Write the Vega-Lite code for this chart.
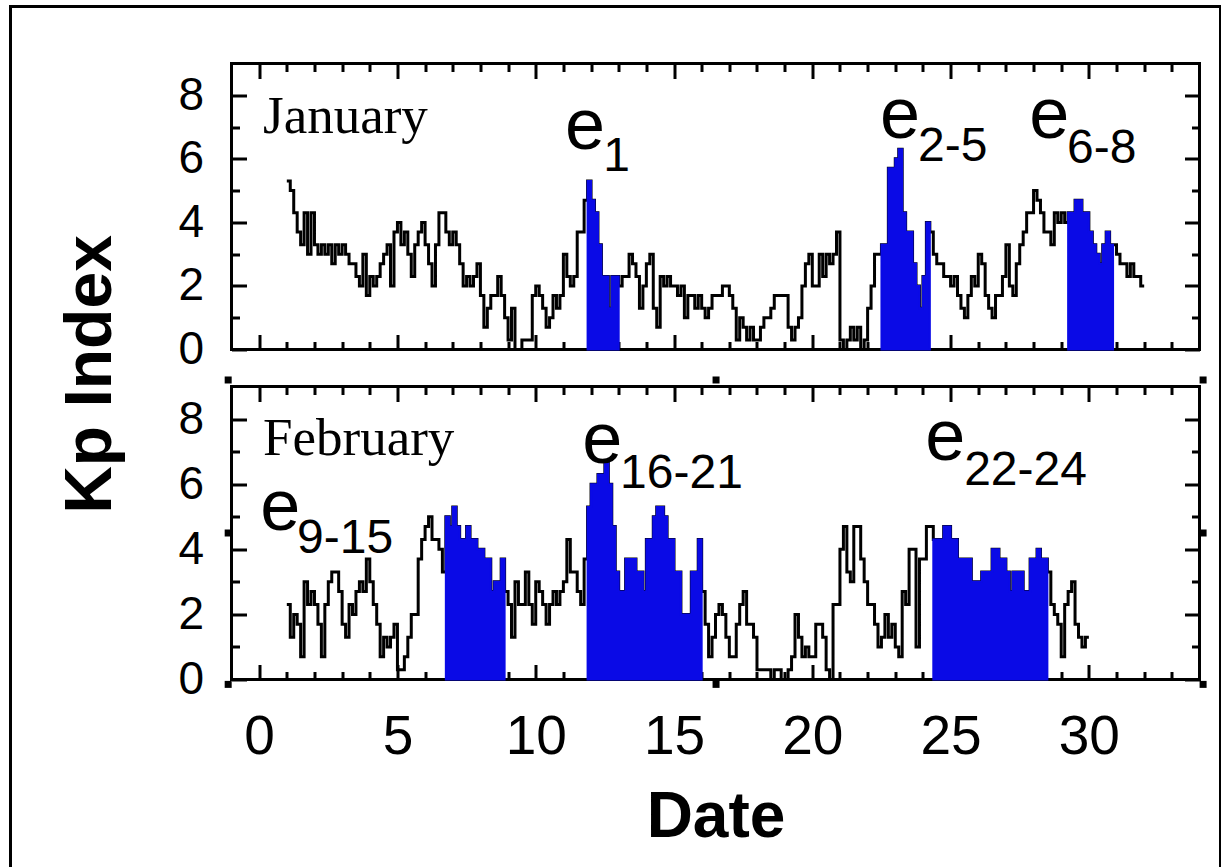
{
  "$schema": "https://vega.github.io/schema/vega-lite/v6.json",
  "background": "white",
  "padding": {"left": 10.5, "top": 6.5, "right": 0, "bottom": 0},
  "autosize": {"type": "pad"},
  "config": {
    "width": 1210,
    "height": 862,
    "group": {"stroke": "black", "strokeWidth": 3},
    "view": {"stroke": "black", "strokeWidth": 3},
    "axis": {"grid": false, "domain": false, "tickColor": "black", "tickWidth": 3, "labelColor": "black", "labelFont": "Liberation Sans", "labelOverlap": false, "labelFlush": false, "titleColor": "black"},
    "text": {"font": "Liberation Sans", "color": "black"}
  },
  "datasets": {
    "january": [
      {"day":1,"kp":5.3},{"day":1.125,"kp":5},{"day":1.25,"kp":4.3},{"day":1.375,"kp":3.7},{"day":1.5,"kp":3.3},{"day":1.625,"kp":4.3},{"day":1.75,"kp":3},{"day":1.875,"kp":4.3},
      {"day":2,"kp":3.3},{"day":2.125,"kp":3},{"day":2.25,"kp":3.3},{"day":2.375,"kp":3},{"day":2.5,"kp":3.3},{"day":2.625,"kp":2.7},{"day":2.75,"kp":3.3},{"day":2.875,"kp":3},
      {"day":3,"kp":3.3},{"day":3.125,"kp":3},{"day":3.25,"kp":2.7},{"day":3.375,"kp":2.7},{"day":3.5,"kp":2.3},{"day":3.625,"kp":2},{"day":3.75,"kp":3},{"day":3.875,"kp":1.7},
      {"day":4,"kp":2.3},{"day":4.125,"kp":2},{"day":4.25,"kp":2.3},{"day":4.375,"kp":2.7},{"day":4.5,"kp":3},{"day":4.625,"kp":3.3},{"day":4.75,"kp":2},{"day":4.875,"kp":3.7},
      {"day":5,"kp":4},{"day":5.125,"kp":3.3},{"day":5.25,"kp":3.7},{"day":5.375,"kp":3},{"day":5.5,"kp":2.3},{"day":5.625,"kp":3.3},{"day":5.75,"kp":3.7},{"day":5.875,"kp":4},
      {"day":6,"kp":3.3},{"day":6.125,"kp":2.7},{"day":6.25,"kp":2},{"day":6.375,"kp":3.3},{"day":6.5,"kp":4.3},{"day":6.625,"kp":4.3},{"day":6.75,"kp":3.7},{"day":6.875,"kp":3.3},
      {"day":7,"kp":3.7},{"day":7.125,"kp":3.3},{"day":7.25,"kp":2.7},{"day":7.375,"kp":2},{"day":7.5,"kp":2.3},{"day":7.625,"kp":2},{"day":7.75,"kp":2.3},{"day":7.875,"kp":2.7},
      {"day":8,"kp":1.7},{"day":8.125,"kp":0.7},{"day":8.25,"kp":1.3},{"day":8.375,"kp":1.7},{"day":8.5,"kp":1.7},{"day":8.625,"kp":2.3},{"day":8.75,"kp":1.7},{"day":8.875,"kp":1},
      {"day":9,"kp":0.3},{"day":9.125,"kp":1.3},{"day":9.25,"kp":0},{"day":9.375,"kp":0},{"day":9.5,"kp":0.3},{"day":9.625,"kp":0.3},{"day":9.75,"kp":0.3},{"day":9.875,"kp":1.7},
      {"day":10,"kp":2},{"day":10.125,"kp":1.7},{"day":10.25,"kp":1.3},{"day":10.375,"kp":0.7},{"day":10.5,"kp":1},{"day":10.625,"kp":1.7},{"day":10.75,"kp":1.3},{"day":10.875,"kp":1.7},
      {"day":11,"kp":3},{"day":11.125,"kp":2.3},{"day":11.25,"kp":2},{"day":11.375,"kp":2.3},{"day":11.5,"kp":3.7},{"day":11.625,"kp":3.7},{"day":11.75,"kp":4.7},{"day":11.875,"kp":5.3,"event":"e1"},
      {"day":12,"kp":4.7,"event":"e1"},{"day":12.125,"kp":4.3,"event":"e1"},{"day":12.25,"kp":3.3,"event":"e1"},{"day":12.375,"kp":2.3,"event":"e1"},{"day":12.5,"kp":2.3,"event":"e1"},{"day":12.625,"kp":1.3,"event":"e1"},{"day":12.75,"kp":2.3,"event":"e1"},{"day":12.875,"kp":2.3,"event":"e1"},
      {"day":13,"kp":2,"event":"e1"},{"day":13.125,"kp":2.3},{"day":13.25,"kp":2.3},{"day":13.375,"kp":3},{"day":13.5,"kp":2.7},{"day":13.625,"kp":2.3},{"day":13.75,"kp":1.3},{"day":13.875,"kp":2},
      {"day":14,"kp":2.7},{"day":14.125,"kp":3},{"day":14.25,"kp":1.3},{"day":14.375,"kp":0.7},{"day":14.5,"kp":2.3},{"day":14.625,"kp":2},{"day":14.75,"kp":2.3},{"day":14.875,"kp":2},
      {"day":15,"kp":2},{"day":15.125,"kp":1.7},{"day":15.25,"kp":2},{"day":15.375,"kp":1},{"day":15.5,"kp":1.7},{"day":15.625,"kp":1.7},{"day":15.75,"kp":1.3},{"day":15.875,"kp":1.7},
      {"day":16,"kp":1.3},{"day":16.125,"kp":1},{"day":16.25,"kp":1.3},{"day":16.375,"kp":1.7},{"day":16.5,"kp":1.7},{"day":16.625,"kp":1.7},{"day":16.75,"kp":2},{"day":16.875,"kp":2},
      {"day":17,"kp":1.7},{"day":17.125,"kp":1.3},{"day":17.25,"kp":0.3},{"day":17.375,"kp":1},{"day":17.5,"kp":0.7},{"day":17.625,"kp":0.3},{"day":17.75,"kp":0.7},{"day":17.875,"kp":0.3},
      {"day":18,"kp":0.3},{"day":18.125,"kp":0.7},{"day":18.25,"kp":1},{"day":18.375,"kp":1},{"day":18.5,"kp":1.3},{"day":18.625,"kp":1.7},{"day":18.75,"kp":1.7},{"day":18.875,"kp":1.7},
      {"day":19,"kp":1.7},{"day":19.125,"kp":0.7},{"day":19.25,"kp":0.3},{"day":19.375,"kp":0.7},{"day":19.5,"kp":1},{"day":19.625,"kp":2},{"day":19.75,"kp":2.7},{"day":19.875,"kp":3},
      {"day":20,"kp":2},{"day":20.125,"kp":2},{"day":20.25,"kp":3},{"day":20.375,"kp":2.3},{"day":20.5,"kp":3},{"day":20.625,"kp":2.7},{"day":20.75,"kp":3},{"day":20.875,"kp":3.7},
      {"day":21,"kp":0.3},{"day":21.125,"kp":0},{"day":21.25,"kp":0.3},{"day":21.375,"kp":0.7},{"day":21.5,"kp":0.3},{"day":21.625,"kp":0.7},{"day":21.75,"kp":0},{"day":21.875,"kp":0.3},
      {"day":22,"kp":1.3},{"day":22.125,"kp":2},{"day":22.25,"kp":3},{"day":22.375,"kp":3},{"day":22.5,"kp":3.3,"event":"e2-5"},{"day":22.625,"kp":3.3,"event":"e2-5"},{"day":22.75,"kp":5.7,"event":"e2-5"},{"day":22.875,"kp":5.7,"event":"e2-5"},
      {"day":23,"kp":6,"event":"e2-5"},{"day":23.125,"kp":6.3,"event":"e2-5"},{"day":23.25,"kp":4.3,"event":"e2-5"},{"day":23.375,"kp":3.7,"event":"e2-5"},{"day":23.5,"kp":3.7,"event":"e2-5"},{"day":23.625,"kp":2.7,"event":"e2-5"},{"day":23.75,"kp":2,"event":"e2-5"},{"day":23.875,"kp":1.3,"event":"e2-5"},
      {"day":24,"kp":2.3,"event":"e2-5"},{"day":24.125,"kp":4,"event":"e2-5"},{"day":24.25,"kp":3.7,"event":"e2-5"},{"day":24.375,"kp":3},{"day":24.5,"kp":2.7},{"day":24.625,"kp":2.7},{"day":24.75,"kp":2.3},{"day":24.875,"kp":2.3},
      {"day":25,"kp":2},{"day":25.125,"kp":2.3},{"day":25.25,"kp":1.7},{"day":25.375,"kp":1.3},{"day":25.5,"kp":1},{"day":25.625,"kp":1.7},{"day":25.75,"kp":2.3},{"day":25.875,"kp":2},
      {"day":26,"kp":3},{"day":26.125,"kp":2.7},{"day":26.25,"kp":1.7},{"day":26.375,"kp":1.3},{"day":26.5,"kp":1},{"day":26.625,"kp":1.7},{"day":26.75,"kp":1.7},{"day":26.875,"kp":2.3},
      {"day":27,"kp":3.3},{"day":27.125,"kp":2},{"day":27.25,"kp":1.7},{"day":27.375,"kp":2.7},{"day":27.5,"kp":3.3},{"day":27.625,"kp":3.7},{"day":27.75,"kp":4.3},{"day":27.875,"kp":4.3},
      {"day":28,"kp":5},{"day":28.125,"kp":4.7},{"day":28.25,"kp":4.3},{"day":28.375,"kp":3.7},{"day":28.5,"kp":3.7},{"day":28.625,"kp":3.3},{"day":28.75,"kp":4.3},{"day":28.875,"kp":4},
      {"day":29,"kp":4.3},{"day":29.125,"kp":4},{"day":29.25,"kp":4.3,"event":"e6-8"},{"day":29.375,"kp":4.3,"event":"e6-8"},{"day":29.5,"kp":4.7,"event":"e6-8"},{"day":29.625,"kp":4.7,"event":"e6-8"},{"day":29.75,"kp":4.3,"event":"e6-8"},{"day":29.875,"kp":4.3,"event":"e6-8"},
      {"day":30,"kp":3.7,"event":"e6-8"},{"day":30.125,"kp":3.3,"event":"e6-8"},{"day":30.25,"kp":3,"event":"e6-8"},{"day":30.375,"kp":2.7,"event":"e6-8"},{"day":30.5,"kp":3.3,"event":"e6-8"},{"day":30.625,"kp":3.7,"event":"e6-8"},{"day":30.75,"kp":3.3,"event":"e6-8"},{"day":30.875,"kp":3.3,"event":"e6-8"},
      {"day":31,"kp":3},{"day":31.125,"kp":2.7},{"day":31.25,"kp":2.7},{"day":31.375,"kp":2.3},{"day":31.5,"kp":2.7},{"day":31.625,"kp":2.3},{"day":31.75,"kp":2.3},{"day":31.875,"kp":2},
      {"day":32,"kp":2}
    ],
    "february": [
      {"day":1,"kp":2.3},{"day":1.125,"kp":1.3},{"day":1.25,"kp":2},{"day":1.375,"kp":1.7},{"day":1.5,"kp":0.7},{"day":1.625,"kp":3},{"day":1.75,"kp":2.3},{"day":1.875,"kp":2.7},
      {"day":2,"kp":2.3},{"day":2.125,"kp":1.7},{"day":2.25,"kp":0.7},{"day":2.375,"kp":2.3},{"day":2.5,"kp":3},{"day":2.625,"kp":3.3},{"day":2.75,"kp":3.3},{"day":2.875,"kp":2.7},
      {"day":3,"kp":1.7},{"day":3.125,"kp":1.3},{"day":3.25,"kp":2.3},{"day":3.375,"kp":2},{"day":3.5,"kp":2.7},{"day":3.625,"kp":3},{"day":3.75,"kp":2.7},{"day":3.875,"kp":3.7},
      {"day":4,"kp":3},{"day":4.125,"kp":2.3},{"day":4.25,"kp":1.7},{"day":4.375,"kp":0.7},{"day":4.5,"kp":1.3},{"day":4.625,"kp":1},{"day":4.75,"kp":1.3},{"day":4.875,"kp":1.7},
      {"day":5,"kp":0.3},{"day":5.125,"kp":0.3},{"day":5.25,"kp":0.7},{"day":5.375,"kp":1.3},{"day":5.5,"kp":2},{"day":5.625,"kp":2},{"day":5.75,"kp":3.7},{"day":5.875,"kp":4.3},
      {"day":6,"kp":4.7},{"day":6.125,"kp":5},{"day":6.25,"kp":4.3},{"day":6.375,"kp":4.3},{"day":6.5,"kp":4},{"day":6.625,"kp":3.3},{"day":6.75,"kp":5,"event":"e9-15"},{"day":6.875,"kp":4.7,"event":"e9-15"},
      {"day":7,"kp":5.3,"event":"e9-15"},{"day":7.125,"kp":4.7,"event":"e9-15"},{"day":7.25,"kp":4.3,"event":"e9-15"},{"day":7.375,"kp":4.3,"event":"e9-15"},{"day":7.5,"kp":4.7,"event":"e9-15"},{"day":7.625,"kp":4.3,"event":"e9-15"},{"day":7.75,"kp":4.3,"event":"e9-15"},{"day":7.875,"kp":4,"event":"e9-15"},
      {"day":8,"kp":4,"event":"e9-15"},{"day":8.125,"kp":3.7,"event":"e9-15"},{"day":8.25,"kp":3.7,"event":"e9-15"},{"day":8.375,"kp":2.7,"event":"e9-15"},{"day":8.5,"kp":3,"event":"e9-15"},{"day":8.625,"kp":3,"event":"e9-15"},{"day":8.75,"kp":3.7,"event":"e9-15"},{"day":8.875,"kp":2.7,"event":"e9-15"},
      {"day":9,"kp":2.3},{"day":9.125,"kp":1.3},{"day":9.25,"kp":3},{"day":9.375,"kp":2.3},{"day":9.5,"kp":2.3},{"day":9.625,"kp":3.3},{"day":9.75,"kp":2.3},{"day":9.875,"kp":1.7},
      {"day":10,"kp":3},{"day":10.125,"kp":2.7},{"day":10.25,"kp":2.3},{"day":10.375,"kp":1.7},{"day":10.5,"kp":2.3},{"day":10.625,"kp":2.7},{"day":10.75,"kp":2.3},{"day":10.875,"kp":2.7},
      {"day":11,"kp":3},{"day":11.125,"kp":4.3},{"day":11.25,"kp":3.3},{"day":11.375,"kp":3.3},{"day":11.5,"kp":2.7},{"day":11.625,"kp":2.3},{"day":11.75,"kp":3.7},{"day":11.875,"kp":5.3,"event":"e16-21"},
      {"day":12,"kp":6,"event":"e16-21"},{"day":12.125,"kp":6,"event":"e16-21"},{"day":12.25,"kp":6.3,"event":"e16-21"},{"day":12.375,"kp":6.3,"event":"e16-21"},{"day":12.5,"kp":6.7,"event":"e16-21"},{"day":12.625,"kp":6,"event":"e16-21"},{"day":12.75,"kp":4.7,"event":"e16-21"},{"day":12.875,"kp":3.3,"event":"e16-21"},
      {"day":13,"kp":2.7,"event":"e16-21"},{"day":13.125,"kp":2.7,"event":"e16-21"},{"day":13.25,"kp":3.7,"event":"e16-21"},{"day":13.375,"kp":3.7,"event":"e16-21"},{"day":13.5,"kp":3.7,"event":"e16-21"},{"day":13.625,"kp":3.3,"event":"e16-21"},{"day":13.75,"kp":3.3,"event":"e16-21"},{"day":13.875,"kp":2.7,"event":"e16-21"},
      {"day":14,"kp":4.3,"event":"e16-21"},{"day":14.125,"kp":4.3,"event":"e16-21"},{"day":14.25,"kp":5,"event":"e16-21"},{"day":14.375,"kp":5.3,"event":"e16-21"},{"day":14.5,"kp":5.3,"event":"e16-21"},{"day":14.625,"kp":5,"event":"e16-21"},{"day":14.75,"kp":4.3,"event":"e16-21"},{"day":14.875,"kp":4.3,"event":"e16-21"},
      {"day":15,"kp":3.3,"event":"e16-21"},{"day":15.125,"kp":3.3,"event":"e16-21"},{"day":15.25,"kp":2,"event":"e16-21"},{"day":15.375,"kp":2,"event":"e16-21"},{"day":15.5,"kp":2,"event":"e16-21"},{"day":15.625,"kp":3.3,"event":"e16-21"},{"day":15.75,"kp":3.3,"event":"e16-21"},{"day":15.875,"kp":4.3,"event":"e16-21"},
      {"day":16,"kp":2.7,"event":"e16-21"},{"day":16.125,"kp":1.7},{"day":16.25,"kp":0.7},{"day":16.375,"kp":1.3},{"day":16.5,"kp":2},{"day":16.625,"kp":2.3},{"day":16.75,"kp":2},{"day":16.875,"kp":1.3},
      {"day":17,"kp":0.7},{"day":17.125,"kp":0.7},{"day":17.25,"kp":1.7},{"day":17.375,"kp":2.3},{"day":17.5,"kp":2.7},{"day":17.625,"kp":1.7},{"day":17.75,"kp":1.7},{"day":17.875,"kp":1.3},
      {"day":18,"kp":0.3},{"day":18.125,"kp":0.3},{"day":18.25,"kp":0.3},{"day":18.375,"kp":0.3},{"day":18.5,"kp":0},{"day":18.625,"kp":0.3},{"day":18.75,"kp":0.3},{"day":18.875,"kp":0},
      {"day":19,"kp":0},{"day":19.125,"kp":0.3},{"day":19.25,"kp":0.7},{"day":19.375,"kp":2},{"day":19.5,"kp":1.3},{"day":19.625,"kp":0.7},{"day":19.75,"kp":1},{"day":19.875,"kp":0.7},
      {"day":20,"kp":0.7},{"day":20.125,"kp":1.7},{"day":20.25,"kp":1.7},{"day":20.375,"kp":1.3},{"day":20.5,"kp":0.3},{"day":20.625,"kp":0},{"day":20.75,"kp":2.3},{"day":20.875,"kp":2.3},
      {"day":21,"kp":4},{"day":21.125,"kp":4.7},{"day":21.25,"kp":3.3},{"day":21.375,"kp":3},{"day":21.5,"kp":4.7},{"day":21.625,"kp":4.7},{"day":21.75,"kp":3.7},{"day":21.875,"kp":3},
      {"day":22,"kp":2.3},{"day":22.125,"kp":2.3},{"day":22.25,"kp":1.7},{"day":22.375,"kp":1},{"day":22.5,"kp":1.3},{"day":22.625,"kp":2},{"day":22.75,"kp":1.3},{"day":22.875,"kp":1.7},
      {"day":23,"kp":1},{"day":23.125,"kp":0.7},{"day":23.25,"kp":2.7},{"day":23.375,"kp":2.3},{"day":23.5,"kp":4},{"day":23.625,"kp":4},{"day":23.75,"kp":1},{"day":23.875,"kp":3.7},
      {"day":24,"kp":3.7},{"day":24.125,"kp":4.7},{"day":24.25,"kp":4.7},{"day":24.375,"kp":4.3,"event":"e22-24"},{"day":24.5,"kp":4.3,"event":"e22-24"},{"day":24.625,"kp":4.3,"event":"e22-24"},{"day":24.75,"kp":4.7,"event":"e22-24"},{"day":24.875,"kp":4.7,"event":"e22-24"},
      {"day":25,"kp":4.3,"event":"e22-24"},{"day":25.125,"kp":4.3,"event":"e22-24"},{"day":25.25,"kp":3.7,"event":"e22-24"},{"day":25.375,"kp":3.7,"event":"e22-24"},{"day":25.5,"kp":3.7,"event":"e22-24"},{"day":25.625,"kp":3.7,"event":"e22-24"},{"day":25.75,"kp":3,"event":"e22-24"},{"day":25.875,"kp":3,"event":"e22-24"},
      {"day":26,"kp":3,"event":"e22-24"},{"day":26.125,"kp":3.3,"event":"e22-24"},{"day":26.25,"kp":3.3,"event":"e22-24"},{"day":26.375,"kp":3.3,"event":"e22-24"},{"day":26.5,"kp":4,"event":"e22-24"},{"day":26.625,"kp":4,"event":"e22-24"},{"day":26.75,"kp":3.7,"event":"e22-24"},{"day":26.875,"kp":3.7,"event":"e22-24"},
      {"day":27,"kp":3.3,"event":"e22-24"},{"day":27.125,"kp":2.7,"event":"e22-24"},{"day":27.25,"kp":3.3,"event":"e22-24"},{"day":27.375,"kp":3.3,"event":"e22-24"},{"day":27.5,"kp":3.3,"event":"e22-24"},{"day":27.625,"kp":2.7,"event":"e22-24"},{"day":27.75,"kp":2.7,"event":"e22-24"},{"day":27.875,"kp":3.7,"event":"e22-24"},
      {"day":28,"kp":3.7,"event":"e22-24"},{"day":28.125,"kp":4,"event":"e22-24"},{"day":28.25,"kp":3.7,"event":"e22-24"},{"day":28.375,"kp":3.7,"event":"e22-24"},{"day":28.5,"kp":3.3,"event":"e22-24"},{"day":28.625,"kp":2.3},{"day":28.75,"kp":2},{"day":28.875,"kp":1.7},
      {"day":29,"kp":0.7},{"day":29.125,"kp":2.3},{"day":29.25,"kp":2.7},{"day":29.375,"kp":3},{"day":29.5,"kp":1.7},{"day":29.625,"kp":1.3},{"day":29.75,"kp":1},{"day":29.875,"kp":1.3},
      {"day":30,"kp":1.3}
    ]
  },
  "spacing": 52,
  "hconcat": [
    {
      "width": 96,
      "height": 736,
      "view": {"stroke": null},
      "data": {"values": [{"label": "Kp Index"}]},
      "mark": {"type": "text", "angle": 270, "align": "center", "baseline": "top", "font": "Liberation Sans", "fontSize": 66, "fontWeight": "bold", "color": "black"},
      "encoding": {"text": {"field": "label"}}
    },
    {
      "spacing": 0,
      "vconcat": [
        {
          "width": 1,
          "height": 53.5,
          "view": {"stroke": null},
          "data": {"values": []},
          "mark": "point"
        },
        {
          "width": 968,
          "height": 286,
          "resolve": {"axis": {"x": "independent", "y": "independent"}},
          "layer": [
            {
              "data": {"name": "january"},
              "mark": {"type": "line", "interpolate": "step-after", "color": "black", "strokeWidth": 3},
              "encoding": {
                "x": {"field": "day", "type": "quantitative", "scale": {"domain": [-1, 34], "nice": false, "zero": false},
                      "axis": {"orient": "bottom", "values": [0,1,2,3,4,5,6,7,8,9,10,11,12,13,14,15,16,17,18,19,20,21,22,23,24,25,26,27,28,29,30,31,32,33], "labels": false, "title": null,
                               "tickSize": {"condition": {"test": "datum.value % 5 === 0", "value": -15}, "value": -8}}},
                "y": {"field": "kp", "type": "quantitative", "scale": {"domain": [0, 9], "nice": false, "zero": false},
                      "axis": {"orient": "left", "values": [0,1,2,3,4,5,6,7,8], "title": null, "labelFontSize": 46, "labelPadding": 43,
                               "labelExpr": "datum.value % 2 === 0 ? datum.label : ''",
                               "tickSize": {"condition": {"test": "datum.value % 2 === 0", "value": -15}, "value": -8}}}
              }
            },
            {
              "data": {"name": "january"},
              "transform": [{"filter": "isValid(datum.event)"}],
              "mark": {"type": "area", "interpolate": "step-after", "color": "#0a0ae6", "stroke": "#0a0ae6", "strokeWidth": 2, "opacity": 1},
              "encoding": {
                "x": {"field": "day", "type": "quantitative", "scale": {"domain": [-1, 34], "nice": false, "zero": false},
                      "axis": {"orient": "top", "values": [0,1,2,3,4,5,6,7,8,9,10,11,12,13,14,15,16,17,18,19,20,21,22,23,24,25,26,27,28,29,30,31,32,33], "labels": false, "title": null,
                               "tickSize": {"condition": {"test": "datum.value % 5 === 0", "value": -15}, "value": -8}}},
                "y": {"field": "kp", "type": "quantitative", "stack": null, "scale": {"domain": [0, 9], "nice": false, "zero": false},
                      "axis": {"orient": "right", "values": [0,1,2,3,4,5,6,7,8], "labels": false, "title": null,
                               "tickSize": {"condition": {"test": "datum.value % 2 === 0", "value": -15}, "value": -8}}},
                "detail": {"field": "event"}
              }
            },
            {
              "data": {"values": [{"day": 0.14, "kp": 6.82, "label": "January"}]},
              "mark": {"type": "text", "align": "left", "baseline": "alphabetic", "font": "Liberation Serif", "fontSize": 53, "color": "black"},
              "encoding": {
                "x": {"field": "day", "type": "quantitative", "scale": {"domain": [-1, 34], "nice": false, "zero": false}, "axis": null},
                "y": {"field": "kp", "type": "quantitative", "scale": {"domain": [0, 9], "nice": false, "zero": false}, "axis": null},
                "text": {"field": "label"}
              }
            },
            {
              "data": {"values": [{"day": 11.06, "kp": 6.32, "label": "e"}, {"day": 22.45, "kp": 6.64, "label": "e"}, {"day": 27.84, "kp": 6.64, "label": "e"}]},
              "mark": {"type": "text", "align": "left", "baseline": "alphabetic", "font": "Liberation Sans", "fontSize": 72, "color": "black"},
              "encoding": {
                "x": {"field": "day", "type": "quantitative", "scale": {"domain": [-1, 34], "nice": false, "zero": false}, "axis": null},
                "y": {"field": "kp", "type": "quantitative", "scale": {"domain": [0, 9], "nice": false, "zero": false}, "axis": null},
                "text": {"field": "label"}
              }
            },
            {
              "data": {"values": [{"day": 12.44, "kp": 5.63, "label": "1"}, {"day": 23.82, "kp": 5.94, "label": "2-5"}, {"day": 29.21, "kp": 5.88, "label": "6-8"}]},
              "mark": {"type": "text", "align": "left", "baseline": "alphabetic", "font": "Liberation Sans", "fontSize": 48, "color": "black"},
              "encoding": {
                "x": {"field": "day", "type": "quantitative", "scale": {"domain": [-1, 34], "nice": false, "zero": false}, "axis": null},
                "y": {"field": "kp", "type": "quantitative", "scale": {"domain": [0, 9], "nice": false, "zero": false}, "axis": null},
                "text": {"field": "label"}
              }
            }
          ]
        },
        {
          "width": 968,
          "height": 293,
          "resolve": {"axis": {"x": "independent", "y": "independent"}},
          "layer": [
            {
              "data": {"name": "february"},
              "mark": {"type": "line", "interpolate": "step-after", "color": "black", "strokeWidth": 3},
              "encoding": {
                "x": {"field": "day", "type": "quantitative", "scale": {"domain": [-1, 34], "nice": false, "zero": false},
                      "axis": {"orient": "bottom", "values": [0,1,2,3,4,5,6,7,8,9,10,11,12,13,14,15,16,17,18,19,20,21,22,23,24,25,26,27,28,29,30,31,32,33],
                               "labelExpr": "datum.value % 5 === 0 ? datum.label : ''", "labelFontSize": 55, "labelPadding": 46,
                               "title": "Date", "titleFont": "Liberation Sans", "titleFontSize": 64, "titleFontWeight": "bold", "titlePadding": 14,
                               "tickSize": {"condition": {"test": "datum.value % 5 === 0", "value": -15}, "value": -8}}},
                "y": {"field": "kp", "type": "quantitative", "scale": {"domain": [0, 9], "nice": false, "zero": false},
                      "axis": {"orient": "left", "values": [0,1,2,3,4,5,6,7,8], "title": null, "labelFontSize": 46, "labelPadding": 43,
                               "labelExpr": "datum.value % 2 === 0 ? datum.label : ''",
                               "tickSize": {"condition": {"test": "datum.value % 2 === 0", "value": -15}, "value": -8}}}
              }
            },
            {
              "data": {"name": "february"},
              "transform": [{"filter": "isValid(datum.event)"}],
              "mark": {"type": "area", "interpolate": "step-after", "color": "#0a0ae6", "stroke": "#0a0ae6", "strokeWidth": 2, "opacity": 1},
              "encoding": {
                "x": {"field": "day", "type": "quantitative", "scale": {"domain": [-1, 34], "nice": false, "zero": false},
                      "axis": {"orient": "top", "values": [0,1,2,3,4,5,6,7,8,9,10,11,12,13,14,15,16,17,18,19,20,21,22,23,24,25,26,27,28,29,30,31,32,33], "labels": false, "title": null,
                               "tickSize": {"condition": {"test": "datum.value % 5 === 0", "value": -15}, "value": -8}}},
                "y": {"field": "kp", "type": "quantitative", "stack": null, "scale": {"domain": [0, 9], "nice": false, "zero": false},
                      "axis": {"orient": "right", "values": [0,1,2,3,4,5,6,7,8], "labels": false, "title": null,
                               "tickSize": {"condition": {"test": "datum.value % 2 === 0", "value": -15}, "value": -8}}},
                "detail": {"field": "event"}
              }
            },
            {
              "data": {"values": [{"day": 0.14, "kp": 6.9, "label": "February"}]},
              "mark": {"type": "text", "align": "left", "baseline": "alphabetic", "font": "Liberation Serif", "fontSize": 53, "color": "black"},
              "encoding": {
                "x": {"field": "day", "type": "quantitative", "scale": {"domain": [-1, 34], "nice": false, "zero": false}, "axis": null},
                "y": {"field": "kp", "type": "quantitative", "scale": {"domain": [0, 9], "nice": false, "zero": false}, "axis": null},
                "text": {"field": "label"}
              }
            },
            {
              "data": {"values": [{"day": 0.04, "kp": 4.6, "label": "e"}, {"day": 11.68, "kp": 6.66, "label": "e"}, {"day": 24.08, "kp": 6.75, "label": "e"}]},
              "mark": {"type": "text", "align": "left", "baseline": "alphabetic", "font": "Liberation Sans", "fontSize": 72, "color": "black"},
              "encoding": {
                "x": {"field": "day", "type": "quantitative", "scale": {"domain": [-1, 34], "nice": false, "zero": false}, "axis": null},
                "y": {"field": "kp", "type": "quantitative", "scale": {"domain": [0, 9], "nice": false, "zero": false}, "axis": null},
                "text": {"field": "label"}
              }
            },
            {
              "data": {"values": [{"day": 1.37, "kp": 3.9, "label": "9-15"}, {"day": 13.05, "kp": 5.89, "label": "16-21"}, {"day": 25.49, "kp": 5.98, "label": "22-24"}]},
              "mark": {"type": "text", "align": "left", "baseline": "alphabetic", "font": "Liberation Sans", "fontSize": 48, "color": "black"},
              "encoding": {
                "x": {"field": "day", "type": "quantitative", "scale": {"domain": [-1, 34], "nice": false, "zero": false}, "axis": null},
                "y": {"field": "kp", "type": "quantitative", "scale": {"domain": [0, 9], "nice": false, "zero": false}, "axis": null},
                "text": {"field": "label"}
              }
            },
            {
              "data": {"values": [
                {"day": -1.12, "kp": 9.2}, {"day": 16.52, "kp": 9.2}, {"day": 34.13, "kp": 9.2},
                {"day": -1.12, "kp": 4.5}, {"day": 34.13, "kp": 4.5},
                {"day": -1.12, "kp": -0.15}, {"day": 16.52, "kp": -0.15}, {"day": 34.13, "kp": -0.15}
              ]},
              "mark": {"type": "point", "shape": "square", "size": 49, "filled": true, "color": "black", "opacity": 1},
              "encoding": {
                "x": {"field": "day", "type": "quantitative", "scale": {"domain": [-1, 34], "nice": false, "zero": false}, "axis": null},
                "y": {"field": "kp", "type": "quantitative", "scale": {"domain": [0, 9], "nice": false, "zero": false}, "axis": null}
              }
            }
          ]
        }
      ]
    }
  ]
}
